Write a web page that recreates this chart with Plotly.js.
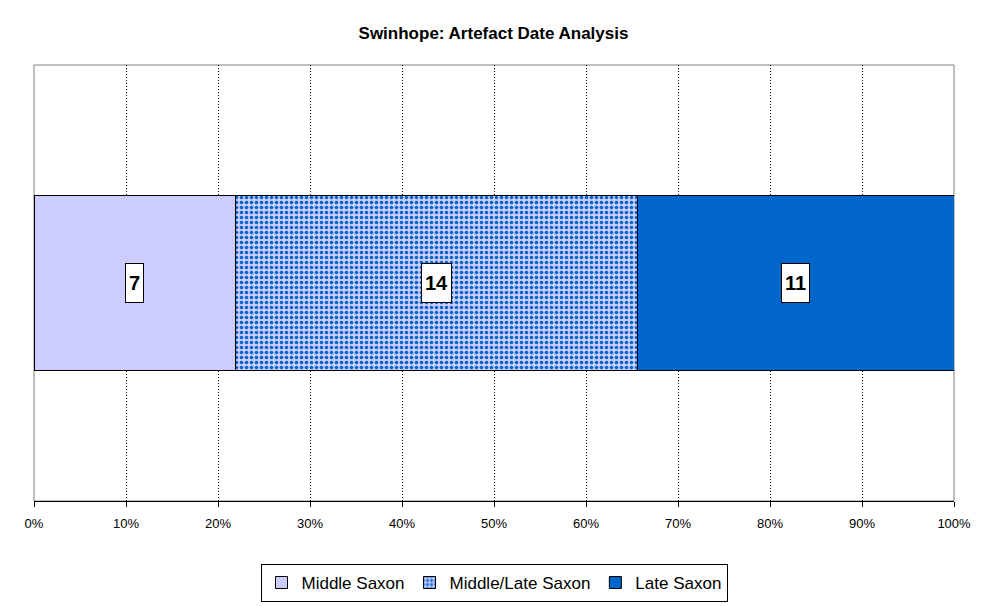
<!DOCTYPE html>
<html>
<head>
<meta charset="utf-8">
<script src="https://cdn.plot.ly/plotly-3.0.1.min.js"></script>
<style>html,body{margin:0;padding:0;background:#fff;}#chart{width:987px;height:606px;}</style>
</head>
<body>
<div id="chart"></div>
<script>
const category = ["Swinhope"];
const seriesNames = ["Middle Saxon", "Middle/Late Saxon", "Late Saxon"];
const middleSaxon = [7];
const middleLateSaxon = [14];
const lateSaxon = [11];
const tickVals = [0,10,20,30,40,50,60,70,80,90,100];
const tickText = tickVals.map(v => v + "%");

const seriesValues = [middleSaxon, middleLateSaxon, lateSaxon];
const colors = ["#CCCCFF", "#CCCCFF", "#0066CC"];
const patterns = [
  {shape: ""},
  {shape: ".", bgcolor: "#CCCCFF", fgcolor: "#0066CC", size: 5, solidity: 0.4, fillmode: "replace"},
  {shape: ""}
];

const traces = seriesNames.map((name, i) => ({
  type: "bar",
  orientation: "h",
  name: name,
  y: category,
  x: seriesValues[i],
  marker: {color: colors[i], line: {color: "#000", width: 1}, pattern: patterns[i]},
  hoverinfo: "x+name"
}));

// label annotations computed from the data
const total = seriesValues.reduce((s, a) => s + a[0], 0);
let cum = 0;
const annotations = seriesValues.map((a) => {
  const mid = (cum + a[0] / 2) / total * 100;
  cum += a[0];
  return {
    x: mid, y: category[0], xref: "x", yref: "y",
    text: "<b>" + a[0] + "</b>", showarrow: false,
    font: {family: "Arial, Liberation Sans, sans-serif", size: 20, color: "#000"},
    bgcolor: "#fff", bordercolor: "#000", borderwidth: 1, borderpad: 3, height: 32, valign: "middle"
  };
});

const layout = {
  width: 987, height: 606,
  paper_bgcolor: "#fff", plot_bgcolor: "#fff",
  margin: {l: 34, r: 33, t: 65, b: 105, autoexpand: false},
  title: {text: "<b>Swinhope: Artefact Date Analysis</b>", x: 0.5, xanchor: "center", y: 0.945, yanchor: "middle",
    font: {family: "Arial, Liberation Sans, sans-serif", size: 17, color: "#000"}},
  barmode: "stack", barnorm: "percent", bargap: 0.6,
  xaxis: {range: [0, 100], tickvals: tickVals, ticktext: tickText, ticks: "outside", ticklen: 5, tickcolor: "#000",
    ticklabelstandoff: 5, automargin: false,
    showline: true, linecolor: "#000", linewidth: 1, showgrid: true, gridcolor: "#000", griddash: "1px,2px", gridwidth: 1,
    zeroline: false, fixedrange: true,
    tickfont: {family: "Arial, Liberation Sans, sans-serif", size: 13, color: "#000"}},
  yaxis: {showticklabels: false, showgrid: false, zeroline: false, showline: false, fixedrange: true, automargin: false},
  legend: {orientation: "h", x: 0.5, xanchor: "center", yref: "container", y: 0.038, yanchor: "middle",
    bordercolor: "#000", borderwidth: 1, bgcolor: "#fff",
    font: {family: "Arial, Liberation Sans, sans-serif", size: 17, color: "#000"},
    traceorder: "normal", itemwidth: 30, tracegroupgap: 0},
  annotations: annotations,
  shapes: [{type: "rect", xref: "paper", yref: "paper", x0: 0, x1: 1, y0: 0, y1: 1, line: {color: "#808080", width: 1}, layer: "below"}],
  showlegend: true
};

Plotly.newPlot("chart", traces, layout, {displayModeBar: false, staticPlot: true});
</script>
</body>
</html>
